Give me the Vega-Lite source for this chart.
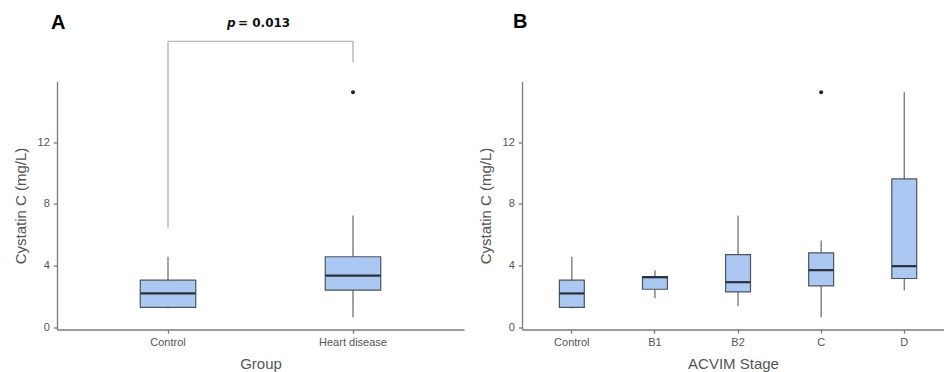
{
  "$schema": "https://vega.github.io/schema/vega-lite/v6.json",
  "autosize": {"type": "pad"},
  "padding": {"left": 13, "top": 11.5, "right": 0, "bottom": 2},
  "spacing": 58,
  "bounds": "flush",
  "background": "white",
  "config": {
    "view": {"stroke": null},
    "font": "Liberation Sans",
    "axis": {
      "grid": false,
      "domainColor": "#7a7a7a", "domainWidth": 1.3,
      "tickColor": "#7a7a7a", "tickWidth": 1.3, "tickSize": 3.7,
      "labelColor": "#555555", "labelFontSize": 11, "labelFont": "Liberation Sans",
      "titleColor": "#555555", "titleFontSize": 15, "titleFontWeight": "normal", "titleFont": "Liberation Sans"
    },
    "axisX": {"labelAngle": 0, "labelPadding": 3, "titlePadding": 9},
    "axisY": {"labelPadding": 4, "titlePadding": 9},
    "title": {"fontSize": 20, "fontWeight": "bold", "color": "#000000", "anchor": "start", "frame": "group", "font": "Liberation Sans", "baseline": "alphabetic"}
  },
  "datasets": {
    "groupBox": [
      {"group": "Control", "lo": 1.21, "q1": 1.28, "med": 2.19, "q3": 3.05, "hi": 4.57},
      {"group": "Heart disease", "lo": 0.65, "q1": 2.40, "med": 3.35, "q3": 4.57, "hi": 7.24}
    ],
    "groupOut": [
      {"group": "Heart disease", "value": 15.24}
    ],
    "test": [
      {"from": "Control", "to": "Heart disease", "fromEnd": 6.45, "toEnd": 17.19, "top": 18.55, "labelY": 19.5, "p": "p", "result": "= 0.013"}
    ],
    "stageBox": [
      {"stage": "Control", "lo": 1.21, "q1": 1.28, "med": 2.19, "q3": 3.05, "hi": 4.57},
      {"stage": "B1", "lo": 1.88, "q1": 2.46, "med": 3.24, "q3": 3.29, "hi": 3.70},
      {"stage": "B2", "lo": 1.36, "q1": 2.29, "med": 2.92, "q3": 4.71, "hi": 7.24},
      {"stage": "C", "lo": 0.65, "q1": 2.68, "med": 3.70, "q3": 4.82, "hi": 5.62},
      {"stage": "D", "lo": 2.40, "q1": 3.16, "med": 3.96, "q3": 9.62, "hi": 15.24}
    ],
    "stageOut": [
      {"stage": "C", "value": 15.24}
    ]
  },
  "hconcat": [
    {
      "width": 407,
      "height": 248,
      "title": {"text": "A", "dx": -6, "offset": -16},
      "encoding": {
        "x": {"field": "group", "type": "nominal", "title": "Group",
              "scale": {"type": "band", "domain": ["Control", "Heart disease"], "paddingInner": 0, "paddingOuter": 0.1}}
      },
      "layer": [
        {
          "data": {"name": "groupBox"},
          "mark": {"type": "rule", "color": "#666666", "strokeWidth": 1.2},
          "encoding": {
            "y": {"field": "lo", "type": "quantitative", "title": "Cystatin C (mg/L)",
                  "scale": {"domain": [-0.15, 15.94], "nice": false, "zero": false},
                  "axis": {"values": [0, 4, 8, 12]}},
            "y2": {"field": "hi"}
          }
        },
        {
          "data": {"name": "groupBox"},
          "mark": {"type": "bar", "width": {"band": 0.3}, "fill": "#abc8f2", "stroke": "#4d5460", "strokeWidth": 1.2},
          "encoding": {
            "y": {"field": "q1", "type": "quantitative"},
            "y2": {"field": "q3"}
          }
        },
        {
          "data": {"name": "groupBox"},
          "mark": {"type": "tick", "size": 55.5, "thickness": 2.2, "color": "#2b3038", "opacity": 1},
          "encoding": {
            "y": {"field": "med", "type": "quantitative"}
          }
        },
        {
          "data": {"name": "groupOut"},
          "mark": {"type": "point", "filled": true, "size": 16, "color": "#222222", "opacity": 1},
          "encoding": {
            "y": {"field": "value", "type": "quantitative"}
          }
        },
        {
          "data": {"name": "test"},
          "mark": {"type": "rule", "color": "#aaaaaa", "strokeWidth": 1.2},
          "encoding": {
            "x": {"field": "from", "type": "nominal"},
            "y": {"field": "fromEnd", "type": "quantitative"},
            "y2": {"field": "top"}
          }
        },
        {
          "data": {"name": "test"},
          "mark": {"type": "rule", "color": "#aaaaaa", "strokeWidth": 1.2},
          "encoding": {
            "x": {"field": "to", "type": "nominal"},
            "y": {"field": "toEnd", "type": "quantitative"},
            "y2": {"field": "top"}
          }
        },
        {
          "data": {"name": "test"},
          "mark": {"type": "rule", "color": "#aaaaaa", "strokeWidth": 1.2},
          "encoding": {
            "x": {"field": "from", "type": "nominal"},
            "x2": {"field": "to"},
            "y": {"field": "top", "type": "quantitative"}
          }
        },
        {
          "data": {"name": "test"},
          "mark": {"type": "text", "font": "DejaVu Sans", "fontSize": 12, "fontWeight": "bold", "fontStyle": "italic", "align": "right", "baseline": "alphabetic", "dx": -25, "color": "#111111"},
          "encoding": {
            "x": {"field": "from", "type": "nominal", "bandPosition": 1},
            "y": {"field": "labelY", "type": "quantitative"},
            "text": {"field": "p"}
          }
        },
        {
          "data": {"name": "test"},
          "mark": {"type": "text", "font": "DejaVu Sans", "fontSize": 12, "fontWeight": "bold", "align": "left", "baseline": "alphabetic", "dx": -22.5, "color": "#111111"},
          "encoding": {
            "x": {"field": "from", "type": "nominal", "bandPosition": 1},
            "y": {"field": "labelY", "type": "quantitative"},
            "text": {"field": "result"}
          }
        }
      ]
    },
    {
      "width": 422,
      "height": 248,
      "title": {"text": "B", "dx": -9, "offset": 50},
      "encoding": {
        "x": {"field": "stage", "type": "nominal", "title": "ACVIM Stage",
              "scale": {"type": "band", "domain": ["Control", "B1", "B2", "C", "D"], "paddingInner": 0.7, "paddingOuter": 0.389, "align": 0.578}}
      },
      "layer": [
        {
          "data": {"name": "stageBox"},
          "mark": {"type": "rule", "color": "#666666", "strokeWidth": 1.2},
          "encoding": {
            "y": {"field": "lo", "type": "quantitative", "title": "Cystatin C (mg/L)",
                  "scale": {"domain": [-0.15, 15.94], "nice": false, "zero": false},
                  "axis": {"values": [0, 4, 8, 12]}},
            "y2": {"field": "hi"}
          }
        },
        {
          "data": {"name": "stageBox"},
          "mark": {"type": "bar", "fill": "#abc8f2", "stroke": "#4d5460", "strokeWidth": 1.2},
          "encoding": {
            "y": {"field": "q1", "type": "quantitative"},
            "y2": {"field": "q3"}
          }
        },
        {
          "data": {"name": "stageBox"},
          "mark": {"type": "tick", "size": 25, "thickness": 2.2, "color": "#2b3038", "opacity": 1},
          "encoding": {
            "y": {"field": "med", "type": "quantitative"}
          }
        },
        {
          "data": {"name": "stageOut"},
          "mark": {"type": "point", "filled": true, "size": 16, "color": "#222222", "opacity": 1},
          "encoding": {
            "y": {"field": "value", "type": "quantitative"}
          }
        }
      ]
    }
  ]
}
